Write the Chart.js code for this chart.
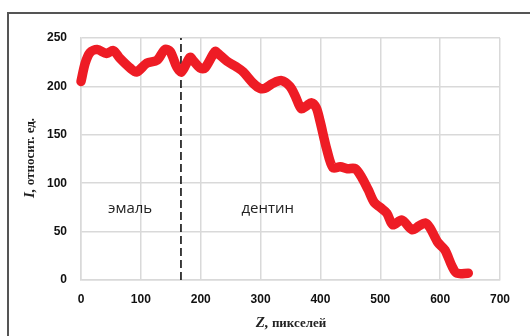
<!DOCTYPE html>
<html>
<head>
<meta charset="utf-8">
<script src="https://cdn.jsdelivr.net/npm/chart.js@4.4.1/dist/chart.umd.min.js"></script>
<style>
  html, body { margin: 0; padding: 0; background: #fff; }
  #wrap { position: relative; width: 530px; height: 336px; overflow: hidden; }
  #frame { position: absolute; left: 7px; top: 12px; width: 600px; height: 400px;
           border-top: 2px solid #555; border-left: 2px solid #555; }
  canvas { position: absolute; left: 0; top: 0; }
</style>
</head>
<body>
<div id="wrap">
  <div id="frame"></div>
  <canvas id="profile" width="530" height="336"></canvas>
</div>
<script>
const zValues = [0, 7, 15, 27, 43, 54, 65, 82, 93, 110, 127, 140, 149, 160, 168, 182, 187, 199, 207,
  224, 229, 244, 260, 271, 288, 299, 307, 320, 335, 349, 358, 368, 377, 385, 393, 399, 411, 421,
  433, 445, 458, 469, 480, 490, 500, 511, 521, 536, 553, 565, 575, 583, 596, 608, 620, 628, 647];
const intensity = [205, 224, 235, 238, 234, 237, 229, 219, 215, 224, 227, 238, 236, 220, 215, 230, 227, 219, 219,
  236, 234, 226, 220, 215, 203, 198, 198, 203, 206, 200, 190, 177, 180, 183, 178, 165, 134, 116,
  117, 115, 115, 106, 93, 80, 75, 69, 57, 62, 52, 56, 59, 54, 39, 31, 14, 7, 7];
const boundaryZ = 167;           // enamel / dentin boundary
const yTicks = [0, 50, 100, 150, 200, 250];
const xTicks = [0, 100, 200, 300, 400, 500, 600, 700];
const regionLabels = [
  { text: "эмаль", z: 82, i: 74 },
  { text: "дентин", z: 312, i: 74 }
];

const lineData = zValues.map((z, k) => ({ x: z, y: intensity[k] }));

// region labels and axis titles with mixed italic
const textPlugin = {
  id: "texts",
  afterDraw(chart) {
    const { ctx, scales: { x, y } } = chart;
    ctx.save();
    ctx.fillStyle = "#222";
    ctx.font = "15px 'Open Sans', sans-serif";
    ctx.textAlign = "center";
    ctx.textBaseline = "middle";
    regionLabels.forEach(l => ctx.fillText(l.text, x.getPixelForValue(l.z), y.getPixelForValue(l.i)));

    // x title
    ctx.textAlign = "left";
    ctx.textBaseline = "alphabetic";
    const italic = "italic bold 15px 'Liberation Serif', serif";
    const plain = "bold 13px 'Liberation Serif', serif";
    ctx.font = italic;
    const w1 = ctx.measureText("Z,").width;
    ctx.font = plain;
    const w2 = ctx.measureText(" пикселей").width;
    let sx = 291 - (w1 + w2) / 2;
    ctx.font = italic; ctx.fillText("Z,", sx, 327);
    ctx.font = plain; ctx.fillText(" пикселей", sx + w1, 327);

    // y title
    ctx.translate(34, 158);
    ctx.rotate(-Math.PI / 2);
    ctx.font = italic;
    const v1 = ctx.measureText("I,").width;
    ctx.font = plain;
    const v2 = ctx.measureText(" относит. ед.").width;
    sx = -(v1 + v2) / 2;
    ctx.font = italic; ctx.fillText("I,", sx, 0);
    ctx.font = plain; ctx.fillText(" относит. ед.", sx + v1, 0);
    ctx.restore();
  }
};

new Chart(document.getElementById("profile"), {
  type: "scatter",
  data: {
    datasets: [
      {
        data: lineData,
        showLine: true,
        clip: false,
        borderColor: "#ee1c25",
        borderWidth: 9.5,
        borderCapStyle: "round",
        borderJoinStyle: "round",
        pointRadius: 0,
        tension: 0.3
      },
      {
        data: [{ x: boundaryZ, y: 0 }, { x: boundaryZ, y: 250 }],
        showLine: true,
        borderColor: "#111",
        borderWidth: 1.6,
        borderDash: [8, 4],
        pointRadius: 0
      }
    ]
  },
  options: {
    responsive: false,
    animation: false,
    layout: { padding: { left: 0, top: 38, right: 30, bottom: 0 } },
    plugins: { legend: { display: false }, tooltip: { enabled: false } },
    scales: {
      x: {
        type: "linear",
        min: 0, max: 700,
        afterBuildTicks: s => { s.ticks = xTicks.map(v => ({ value: v })); },
        afterFit: s => { s.height = 56; },
        grid: { color: "#d9d9d9", lineWidth: 1.5, drawTicks: false },
        border: { color: "#d9d9d9", width: 1.5 },
        ticks: { padding: 12, color: "#111", font: { family: "'Liberation Sans', sans-serif", size: 12, weight: "bold" } }
      },
      y: {
        min: 0, max: 250,
        afterBuildTicks: s => { s.ticks = yTicks.map(v => ({ value: v })); },
        afterFit: s => { s.width = 81; },
        grid: { color: "#d9d9d9", lineWidth: 1.5, drawTicks: false },
        border: { color: "#d9d9d9", width: 1.5 },
        ticks: { padding: 14, color: "#111", font: { family: "'Liberation Sans', sans-serif", size: 12, weight: "bold" } }
      }
    }
  },
  plugins: [textPlugin]
});
</script>
</body>
</html>
